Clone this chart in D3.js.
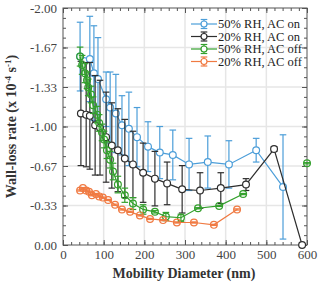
<!DOCTYPE html>
<html>
<head>
<meta charset="utf-8">
<script src="https://cdn.jsdelivr.net/npm/d3@7"></script>
<style>
  body { margin: 0; background: #fff; }
  svg { display: block; }
</style>
</head>
<body>
<div id="chart"></div>
<script>
"use strict";

let serif = "'Liberation Serif', 'Times New Roman', Times, 'DejaVu Serif', serif";

// series names + colours (legend order)
let series_names = ["50% RH, AC on", "20% RH, AC on", "50% RH, AC off", "20% RH, AC off"];
let series_colors = ["#4C9ED9", "#2e2e2e", "#33A02C", "#F07A42"];

// 50% RH, AC on
let blue_d   = [42, 66, 76, 86, 106, 116, 130, 145, 162, 182, 209, 238, 270, 310, 356, 408, 475, 541];
let blue_v   = [-1.59, -1.57, -1.45, -1.40, -1.23, -1.16, -1.11, -1.01, -0.98, -0.91, -0.83, -0.78, -0.76, -0.68, -0.70, -0.68, -0.80, -0.49];
let blue_err = [0.29, 0.36, 0.40, 0.35, 0.23, 0.30, 0.33, 0.25, 0.31, 0.25, 0.21, 0.22, 0.21, 0.22, 0.22, 0.20, 0.10, 0.44];

// 20% RH, AC on
let black_d   = [44, 57, 66, 79, 91, 106, 120, 135, 152, 172, 197, 226, 256, 293, 337, 388, 450, 519, 588];
let black_v   = [-1.11, -1.10, -1.09, -1.01, -0.99, -0.91, -0.84, -0.80, -0.73, -0.68, -0.61, -0.56, -0.52, -0.47, -0.46, -0.48, -0.51, -0.81, 0.0];
let black_err = [0.44, 0.44, 0.45, 0.42, 0.40, 0.38, 0.36, 0.35, 0.33, 0.28, 0.25, 0.23, 0.18, 0.20, 0.15, 0.13, 0.05, 0.02, 0.0];

// 50% RH, AC off (null = gap in the line)
let green_d   = [42, 47, 54, 59, 62, 69, 74, 84, 89, 96, 101, 108, 116, 123, 135, 152, 172, 197, 226, 253, 290, 332, 384, 443, 520, 600];
let green_v   = [-1.59, -1.52, -1.45, -1.39, -1.33, -1.27, -1.18, -1.10, -1.03, -0.95, -0.89, -0.80, -0.72, -0.62, -0.51, -0.42, -0.35, -0.30, -0.28, -0.24, -0.23, -0.31, -0.33, -0.43, null, -0.69];
let green_err = [0.08, 0.08, 0.08, 0.07, 0.07, 0.07, 0.07, 0.07, 0.07, 0.07, 0.07, 0.07, 0.07, 0.07, 0.07, 0.06, 0.05, 0.04, 0.01, 0.035, 0.03, 0.005, 0.005, 0.005, null, 0.005];

// 20% RH, AC off
let orange_d   = [42, 49, 57, 64, 71, 81, 89, 98, 111, 128, 145, 165, 189, 214, 246, 280, 322, 371, 428];
let orange_v   = [-0.46, -0.48, -0.46, -0.45, -0.42, -0.43, -0.41, -0.40, -0.38, -0.34, -0.30, -0.28, -0.25, -0.22, -0.21, -0.19, -0.19, -0.17, -0.30];
let orange_err = [0.005, 0.005, 0.005, 0.005, 0.005, 0.005, 0.005, 0.005, 0.005, 0.005, 0.005, 0.005, 0.005, 0.005, 0.005, 0.005, 0.005, 0.005, 0.005];

let x_ticks = [0, 100, 200, 300, 400, 500, 600];
let y_ticks = [0, -1/3, -2/3, -1, -4/3, -5/3, -2];

let width = 320, height = 284;
let plot_left = 63, plot_right = 307, plot_top = 8, plot_bottom = 245;

let svg = d3.select("#chart").append("svg").attr("width", width).attr("height", height);

let x = d3.scaleLinear().domain([0, 600]).range([plot_left, plot_right]);
let y = d3.scaleLinear().domain([0, -2]).range([plot_bottom, plot_top]);

// grid
let grid = svg.append("g").attr("stroke", "#e6e6e6").attr("stroke-width", 1.5);
x_ticks.slice(1, -1).forEach(t => {
    grid.append("line").attr("x1", x(t)).attr("x2", x(t)).attr("y1", plot_top).attr("y2", plot_bottom);
});
y_ticks.slice(1, -1).forEach(t => {
    grid.append("line").attr("x1", plot_left).attr("x2", plot_right).attr("y1", y(t)).attr("y2", y(t));
});

// axes (ticks inward, on all four sides)
let x_minor = d3.range(0, 601, 20);
let y_minor = d3.range(0, 25).map(i => -i / 12);

function style_axis(g) {
    g.attr("font-family", serif).attr("font-size", 13);
    g.select(".domain").remove();
    g.selectAll(".tick line").attr("stroke", "#555");
    g.selectAll("text").attr("fill", "#444").attr("font-family", serif);
}

svg.append("g").attr("transform", `translate(0,${plot_bottom})`)
    .call(d3.axisBottom(x).tickValues(x_ticks).tickSize(-5).tickPadding(5).tickFormat(d3.format("d")))
    .call(style_axis);
svg.append("g").attr("transform", `translate(0,${plot_bottom})`)
    .call(d3.axisBottom(x).tickValues(x_minor).tickSize(-3).tickFormat(""))
    .call(style_axis);
svg.append("g").attr("transform", `translate(0,${plot_top})`)
    .call(d3.axisTop(x).tickValues(x_ticks).tickSize(-5).tickFormat(""))
    .call(style_axis);
svg.append("g").attr("transform", `translate(0,${plot_top})`)
    .call(d3.axisTop(x).tickValues(x_minor).tickSize(-3).tickFormat(""))
    .call(style_axis);

svg.append("g").attr("transform", `translate(${plot_left},0)`)
    .call(d3.axisLeft(y).tickValues(y_ticks).tickSize(-5).tickPadding(6).tickFormat(d => d.toFixed(2)))
    .call(style_axis);
svg.append("g").attr("transform", `translate(${plot_left},0)`)
    .call(d3.axisLeft(y).tickValues(y_minor).tickSize(-3).tickFormat(""))
    .call(style_axis);
svg.append("g").attr("transform", `translate(${plot_right},0)`)
    .call(d3.axisRight(y).tickValues(y_ticks).tickSize(-5).tickFormat(""))
    .call(style_axis);
svg.append("g").attr("transform", `translate(${plot_right},0)`)
    .call(d3.axisRight(y).tickValues(y_minor).tickSize(-3).tickFormat(""))
    .call(style_axis);

// frame
svg.append("rect").attr("x", plot_left).attr("y", plot_top)
    .attr("width", plot_right - plot_left).attr("height", plot_bottom - plot_top)
    .attr("fill", "none").attr("stroke", "#555").attr("stroke-width", 1);

// series
let all_series = [
    [blue_d, blue_v, blue_err],
    [black_d, black_v, black_err],
    [green_d, green_v, green_err],
    [orange_d, orange_v, orange_err]
];

let line = d3.line().defined(p => p.v != null).x(p => x(p.d)).y(p => y(p.v));
let cap_w = 3.3;

all_series.forEach((s, i) => {
    let color = series_colors[i];
    let pts = s[0].map((d, j) => ({d: d, v: s[1][j], e: s[2][j]}));
    let g = svg.append("g");
    let shown = pts.filter(p => p.v != null);

    g.append("path").datum(pts).attr("d", line)
        .attr("fill", "none").attr("stroke", color).attr("stroke-width", 1.2);

    shown.forEach(p => {
        let x0 = x(p.d), y1 = y(p.v - p.e), y2 = y(p.v + p.e);
        g.append("line").attr("x1", x0).attr("x2", x0).attr("y1", y1).attr("y2", y2)
            .attr("stroke", color).attr("stroke-width", 1.2);
        g.append("line").attr("x1", x0 - cap_w).attr("x2", x0 + cap_w).attr("y1", y1).attr("y2", y1)
            .attr("stroke", color).attr("stroke-width", 1.2);
        g.append("line").attr("x1", x0 - cap_w).attr("x2", x0 + cap_w).attr("y1", y2).attr("y2", y2)
            .attr("stroke", color).attr("stroke-width", 1.2);
    });

    g.selectAll("circle").data(shown).join("circle")
        .attr("cx", p => x(p.d)).attr("cy", p => y(p.v)).attr("r", 3.4)
        .attr("fill", i >= 2 ? "none" : "#fff").attr("stroke", color).attr("stroke-width", 1.2);
});

// legend
let legend = svg.append("g");
series_names.forEach((name, i) => {
    let ly = 24 + i * 12.5;
    let color = series_colors[i];
    legend.append("line").attr("x1", 191).attr("x2", 217).attr("y1", ly).attr("y2", ly)
        .attr("stroke", color).attr("stroke-width", 1.2);
    legend.append("line").attr("x1", 204).attr("x2", 204).attr("y1", ly - 4.5).attr("y2", ly + 4.5)
        .attr("stroke", color).attr("stroke-width", 1.2);
    [ly - 4.5, ly + 4.5].forEach(cy => {
        legend.append("line").attr("x1", 204 - cap_w).attr("x2", 204 + cap_w).attr("y1", cy).attr("y2", cy)
            .attr("stroke", color).attr("stroke-width", 1.2);
    });
    legend.append("circle").attr("cx", 204).attr("cy", ly).attr("r", 3)
        .attr("fill", "#fff").attr("stroke", color).attr("stroke-width", 1.2);
    legend.append("text").attr("x", 218).attr("y", ly + 4).attr("fill", "#222")
        .attr("font-family", serif).attr("font-size", 12.5).text(name);
});

// axis titles
let y_title = svg.append("text")
    .attr("transform", `translate(16,${(plot_top + plot_bottom) / 2}) rotate(-90)`)
    .attr("text-anchor", "middle").attr("fill", "#333")
    .attr("font-family", serif).attr("font-size", 14).attr("font-weight", "bold");
y_title.append("tspan").text("Wall-loss rate (x 10");
y_title.append("tspan").attr("dy", -5).attr("font-size", 9).text("-4");
y_title.append("tspan").attr("dy", 5).text(" s");
y_title.append("tspan").attr("dy", -5).attr("font-size", 9).text("-1");
y_title.append("tspan").attr("dy", 5).text(")");

svg.append("text").attr("x", 184).attr("y", 278).attr("text-anchor", "middle").attr("fill", "#333")
    .attr("font-family", serif).attr("font-size", 14).attr("font-weight", "bold")
    .text("Mobility Diameter (nm)");
</script>
</body>
</html>
